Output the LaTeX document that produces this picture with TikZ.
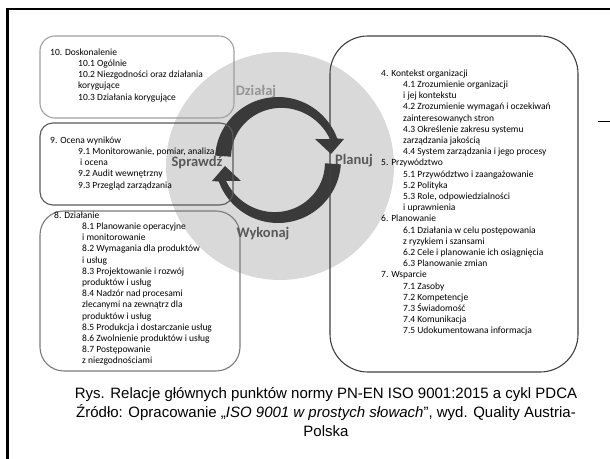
\documentclass[tikz,border=0pt]{standalone}
\usepackage{fontspec}
\setmainfont{Carlito}
\newfontfamily\capfont{Liberation Sans}
\definecolor{ringgrey}{HTML}{D9D9D9}
\definecolor{arrowcol}{HTML}{3A3A3A}
\definecolor{boxa}{HTML}{A0A0A0}
\definecolor{boxb}{HTML}{5A5A5A}
\definecolor{boxc}{HTML}{7A7A7A}
\definecolor{boxd}{HTML}{404040}
\definecolor{lightlab}{HTML}{959595}
\definecolor{darklab}{HTML}{595959}
\begin{document}
\begin{tikzpicture}[x=1bp,y=-1bp,
  box/.style={rounded corners=#1, line width=1.1bp},
  txt/.style={font=\fontsize{9.5bp}{11.2bp}\selectfont, align=left, inner sep=0pt, anchor=north west, text=black},
  pdca/.style={font=\fontsize{14.5bp}{16bp}\selectfont\bfseries, inner sep=0pt},
  ]
\useasboundingbox (0,0) rectangle (610,459);
\fill[white] (0,0) rectangle (610,459);
% grey disc
\fill[ringgrey] (280,166) circle[radius=114];
% cycle arrows (local frame: origin at ring centre, y up)
\begin{scope}[shift={(278,160)}, yscale=-1]
 \fill[arrowcol] (176:63) arc[start angle=176,end angle=20,radius=63]
   -- (66,21) -- (53,6) -- (37,21)
   -- plot[domain=22:176,samples=40] (\x:{56-(\x-22)*0.0584}) -- cycle;
 \fill[arrowcol] (-4:63) arc[start angle=-4,end angle=-160,radius=63]
   -- (-66,-21) -- (-53,-6) -- (-37,-21)
   -- plot[domain=-158:-4,samples=40] (\x:{47+(-4-\x)*0.0584}) -- cycle;
\end{scope}
% boxes
\draw[box=15, draw=boxa] (40,36) rectangle (234,118);
\draw[box=13, draw=boxb] (40,123) rectangle (233,205);
\draw[box=24, draw=boxc] (40,211) rectangle (240,371);
\draw[box=38, draw=boxd] (330,36) rectangle (578,372);
% box texts
\node[txt] (t10) at (50,48.5) {10. Doskonalenie\\
\hspace*{28bp}10.1 Ogólnie\\
\hspace*{28bp}10.2 Niezgodności oraz działania\\
\hspace*{28bp}korygujące\\
\hspace*{28bp}10.3 Działania korygujące};
\node[txt] (t9) at (50,136.5) {9. Ocena wyników\\
\hspace*{28bp}9.1 Monitorowanie, pomiar, analiza\\
\hspace*{30bp}i ocena\\
\hspace*{28bp}9.2 Audit wewnętrzny\\
\hspace*{28bp}9.3 Przegląd zarządzania};
\node[txt] (t8) at (54,211.5) {8. Działanie\\
\hspace*{28bp}8.1 Planowanie operacyjne\\
\hspace*{28bp}i monitorowanie\\
\hspace*{28bp}8.2 Wymagania dla produktów\\
\hspace*{28bp}i usług\\
\hspace*{28bp}8.3 Projektowanie i rozwój\\
\hspace*{28bp}produktów i usług\\
\hspace*{28bp}8.4 Nadzór nad procesami\\
\hspace*{28bp}zlecanymi na zewnątrz dla\\
\hspace*{28bp}produktów i usług\\
\hspace*{28bp}8.5 Produkcja i dostarczanie usług\\
\hspace*{28bp}8.6 Zwolnienie produktów i usług\\
\hspace*{28bp}8.7 Postępowanie\\
\hspace*{28bp}z niezgodnościami};
\node[txt] (t4) at (381,69.5) {4. Kontekst organizacji\\
\hspace*{22bp}4.1 Zrozumienie organizacji\\
\hspace*{22bp}i jej kontekstu\\
\hspace*{22bp}4.2 Zrozumienie wymagań i oczekiwań\\
\hspace*{22bp}zainteresowanych stron\\
\hspace*{22bp}4.3 Określenie zakresu systemu\\
\hspace*{22bp}zarządzania jakością\\
\hspace*{22bp}4.4 System zarządzania i jego procesy\\
5. Przywództwo\\
\hspace*{22bp}5.1 Przywództwo i zaangażowanie\\
\hspace*{22bp}5.2 Polityka\\
\hspace*{22bp}5.3 Role, odpowiedzialności\\
\hspace*{22bp}i uprawnienia\\
6. Planowanie\\
\hspace*{22bp}6.1 Działania w celu postępowania\\
\hspace*{22bp}z ryzykiem i szansami\\
\hspace*{22bp}6.2 Cele i planowanie ich osiągnięcia\\
\hspace*{22bp}6.3 Planowanie zmian\\
7. Wsparcie\\
\hspace*{22bp}7.1 Zasoby\\
\hspace*{22bp}7.2 Kompetencje\\
\hspace*{22bp}7.3 Świadomość\\
\hspace*{22bp}7.4 Komunikacja\\
\hspace*{22bp}7.5 Udokumentowana informacja};
% PDCA labels
\node[pdca, text=lightlab] (dz) at (256,92) {Działaj};
\node[pdca, text=darklab] (pl) at (354,161) {Planuj};
\node[pdca, text=darklab] (sp) at (197,163) {Sprawdź};
\node[pdca, text=darklab] (wk) at (263,234) {Wykonaj};
% frame
\draw[line width=2.6bp] (7.5,459) -- (7.5,9) -- (610,9);
\draw[line width=0.9bp] (598,121) -- (610,121);
% caption
\node[font=\capfont\fontsize{15bp}{19bp}\selectfont, align=center, inner sep=0pt] (cap) at (326,412)
 {Rys. Relacje głównych punktów normy PN-EN ISO 9001:2015 a cykl PDCA\\
  Źródło: Opracowanie „\textit{ISO 9001 w prostych słowach}”, wyd. Quality Austria-\\
  Polska};
\end{tikzpicture}
\end{document}
